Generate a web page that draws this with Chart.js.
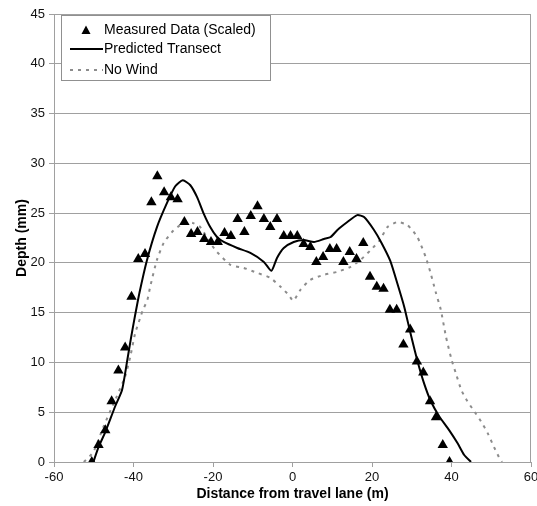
<!DOCTYPE html>
<html>
<head>
<meta charset="utf-8">
<script src="https://cdn.jsdelivr.net/npm/chart.js@4/dist/chart.umd.min.js"></script>
<style>
  html, body { margin: 0; padding: 0; background: #fff; }
  #wrap { width: 537px; height: 506px; }
</style>
</head>
<body>
<div id="wrap"><canvas id="depthChart"></canvas></div>
<script>
// measured triangles
let measuredX = [-50.5, -48.8, -47.1, -45.5, -43.8, -42.1, -40.5, -38.8, -37.1, -35.5,
    -34.0, -32.3, -30.6, -28.9, -27.2, -25.5, -23.9, -22.2, -20.5, -18.8,
    -17.1, -15.5, -13.8, -12.1, -10.5, -8.8, -7.2, -5.6, -3.9, -2.2,
    -0.5, 1.2, 2.8, 4.5, 6.0, 7.7, 9.4, 11.1, 12.8, 14.4,
    16.1, 17.8, 19.5, 21.2, 22.9, 24.5, 26.2, 27.9, 29.6, 31.3,
    32.9, 34.6, 36.1, 37.8, 39.5];
let measuredY = [0, 1.7, 3.2, 6.1, 9.2, 11.5, 16.6, 20.4, 20.9, 26.1,
    28.7, 27.1, 26.6, 26.4, 24.1, 22.9, 23.1, 22.4, 22.1, 22.1,
    23.0, 22.7, 24.4, 23.1, 24.7, 25.7, 24.4, 23.6, 24.4, 22.7,
    22.7, 22.7, 21.9, 21.6, 20.1, 20.6, 21.4, 21.4, 20.1, 21.1,
    20.4, 22.0, 18.6, 17.6, 17.4, 15.3, 15.3, 11.8, 13.3, 10.1,
    9.0, 6.1, 4.5, 1.7, 0.0];

// predicted transect (solid)
let predictedX = [-50.1, -48.8, -47.1, -44.6, -42.9, -41.7, -40.7, -39.8, -38.5, -36.6,
    -34.1, -31.6, -29.5, -27.6, -25.7, -24.0, -22.4, -20.7, -19.0, -17.3,
    -13.9, -10.6, -7.2, -5.3, -3.9, -2.2, 0.3, 2.8, 5.4, 7.9,
    9.6, 11.3, 13.8, 16.3, 18.0, 20.5, 22.4, 24.6, 26.4, 28.1,
    29.7, 31.4, 33.1, 34.8, 36.9, 39.4, 41.5, 43.2, 44.9];
let predictedY = [0, 1.5, 3.0, 5.6, 7.2, 9.9, 12.3, 14.3, 17.0, 20.3,
    23.6, 26.0, 27.7, 28.3, 27.8, 26.6, 25.0, 23.6, 22.6, 22.1,
    21.5, 21.0, 20.1, 19.2, 20.5, 21.5, 22.1, 22.3, 22.1, 22.4,
    22.6, 23.3, 24.1, 24.8, 24.6, 23.3, 22.0, 20.2, 17.9, 15.6,
    12.9, 10.2, 7.9, 6.1, 4.6, 3.2, 1.9, 0.7, 0];

// no wind (dotted)
let noWindX = [-52.5, -50.1, -47.6, -44.2, -42.1, -40.8, -39.6, -38.3, -37.7, -36.5,
    -35.8, -34.1, -32.4, -30.3, -28.2, -26.5, -25.0, -23.2, -20.7, -19.0,
    -15.6, -12.3, -8.9, -5.6, -3.0, -1.0, 0.2, 2.0, 4.5, 7.9,
    11.3, 14.6, 17.1, 19.7, 22.0, 23.9, 26.4, 28.9, 31.4, 33.5,
    34.8, 36.0, 37.3, 38.6, 40.0, 41.1, 42.5, 44.0, 45.7, 47.4,
    49.1, 50.7, 52.3, 52.7];
let noWindY = [0, 1.0, 3.5, 6.6, 8.6, 10.6, 12.9, 14.5, 15.2, 16.3,
    17.6, 20.3, 22.0, 23.1, 23.8, 24.1, 24.0, 23.6, 22.0, 21.1,
    19.8, 19.5, 19.0, 18.5, 17.6, 16.8, 16.2, 17.3, 18.3, 18.8,
    19.1, 19.6, 20.3, 21.3, 22.3, 23.6, 24.1, 23.8, 22.6, 20.6,
    18.9, 17.1, 15.3, 12.6, 10.3, 8.9, 7.2, 6.1, 5.1, 4.1,
    2.9, 1.5, 0.2, 0];

let xTicks = [-60, -40, -20, 0, 20, 40, 60];
let yTicks = [0, 5, 10, 15, 20, 25, 30, 35, 40, 45];

let seriesLabels = ['Measured Data (Scaled)', 'Predicted Transect', 'No Wind'];

let toPoints = (xs, ys) => xs.map((x, i) => ({ x: x, y: ys[i] }));

let FONT = "'Liberation Sans', Arial, sans-serif";
let GRID = '#a0a0a0';

// legend box inside the plot + right frame line
let boxLegend = {
    id: 'boxLegend',
    afterDraw: (chart) => {
        let ctx = chart.ctx;
        let area = chart.chartArea;
        ctx.save();
        // right frame
        ctx.strokeStyle = GRID;
        ctx.lineWidth = 1;
        ctx.beginPath();
        ctx.moveTo(area.right - 0.5, area.top);
        ctx.lineTo(area.right - 0.5, area.bottom);
        ctx.stroke();

        let bx = area.left + 7.5, by = area.top + 1.5, bw = 209, bh = 65;
        ctx.fillStyle = '#fff';
        ctx.fillRect(bx, by, bw, bh);
        ctx.strokeStyle = '#909090';
        ctx.strokeRect(bx, by, bw, bh);

        ctx.font = '14px ' + FONT;
        ctx.fillStyle = '#000';
        ctx.textBaseline = 'middle';
        let textX = area.left + 50;
        let rows = [area.top + 16, area.top + 35, area.top + 56];

        // triangle marker
        let tx = area.left + 32, ty = rows[0];
        ctx.beginPath();
        ctx.moveTo(tx, ty - 4.5);
        ctx.lineTo(tx + 4.5, ty + 4);
        ctx.lineTo(tx - 4.5, ty + 4);
        ctx.closePath();
        ctx.fill();

        // solid line
        ctx.strokeStyle = '#000';
        ctx.lineWidth = 2;
        ctx.beginPath();
        ctx.moveTo(area.left + 16, rows[1]);
        ctx.lineTo(area.left + 49, rows[1]);
        ctx.stroke();

        // dotted line
        ctx.strokeStyle = '#8c8c8c';
        ctx.setLineDash([3, 5]);
        ctx.beginPath();
        ctx.moveTo(area.left + 16, rows[2]);
        ctx.lineTo(area.left + 49, rows[2]);
        ctx.stroke();
        ctx.setLineDash([]);

        seriesLabels.forEach((t, i) => ctx.fillText(t, textX, rows[i]));
        ctx.restore();
    }
};

let ctx = document.getElementById('depthChart');
let myChart = new Chart(ctx, {
    type: 'scatter',
    data: {
        datasets: [{
            label: seriesLabels[0],
            data: toPoints(measuredX, measuredY),
            pointStyle: 'triangle',
            pointRadius: 6,
            backgroundColor: '#000',
            borderColor: '#000',
            borderWidth: 0,
            showLine: false,
            order: 0
        }, {
            label: seriesLabels[1],
            data: toPoints(predictedX, predictedY),
            showLine: true,
            borderColor: '#000',
            borderWidth: 2,
            pointRadius: 0,
            tension: 0.2,
            order: 1
        }, {
            label: seriesLabels[2],
            data: toPoints(noWindX, noWindY),
            showLine: true,
            borderColor: '#8c8c8c',
            borderWidth: 2,
            borderDash: [3, 5],
            pointRadius: 0,
            tension: 0.2,
            order: 2
        }]
    },
    options: {
        responsive: true,
        maintainAspectRatio: false,
        animation: false,
        events: [],
        layout: { padding: { top: 14, right: 6, left: 0, bottom: 0 } },
        plugins: {
            legend: { display: false },
            tooltip: { enabled: false }
        },
        scales: {
            x: {
                type: 'linear',
                min: -60,
                max: 60,
                afterBuildTicks: (scale) => { scale.ticks = xTicks.map(v => ({ value: v })); },
                afterFit: (scale) => {
                    scale.height = 44;
                    scale.paddingLeft = 0;
                    scale.paddingRight = 0;
                },
                grid: { drawOnChartArea: false, drawTicks: true, tickLength: 5, color: GRID },
                border: { color: GRID },
                ticks: { color: '#111', font: { family: FONT, size: 13 }, padding: 3, maxRotation: 0 },
                title: {
                    display: true,
                    text: 'Distance from travel lane (m)',
                    color: '#000',
                    font: { family: FONT, size: 14, weight: 'bold' },
                    padding: { top: 0, bottom: 3 }
                }
            },
            y: {
                type: 'linear',
                min: 0,
                max: 45,
                afterBuildTicks: (scale) => { scale.ticks = yTicks.map(v => ({ value: v })); },
                afterFit: (scale) => {
                    scale.width = 54;
                    scale.paddingTop = 0;
                    scale.paddingBottom = 0;
                },
                grid: { color: GRID, tickLength: 5 },
                border: { color: GRID },
                ticks: { color: '#111', font: { family: FONT, size: 13 }, padding: 4 },
                title: {
                    display: true,
                    text: 'Depth (mm)',
                    color: '#000',
                    font: { family: FONT, size: 14, weight: 'bold' },
                    padding: { top: 14, bottom: 0 }
                }
            }
        }
    },
    plugins: [boxLegend]
});
</script>
</body>
</html>
